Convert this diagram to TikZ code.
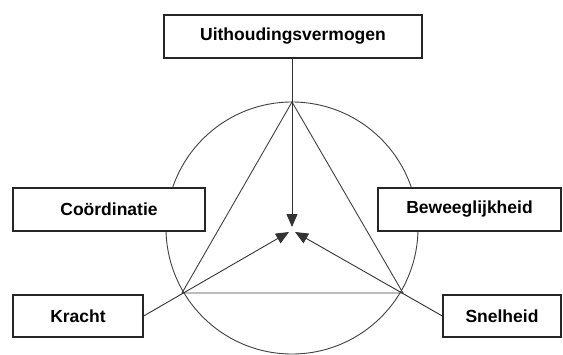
\documentclass[tikz,border=0pt]{standalone}
\usepackage{fontspec}
\setmainfont{Liberation Sans}
\usetikzlibrary{arrows.meta}
\begin{document}
\begin{tikzpicture}[x=1pt,y=-1pt,
  box/.style={draw=black!85,line width=1.3pt,fill=white,inner sep=0pt,
    font=\fontsize{17.5}{20}\selectfont\bfseries},
  geo/.style={draw=black!75,line width=0.9pt},
  conn/.style={draw=black!80,line width=0.9pt,-{Triangle[length=13pt,width=11pt]}}]
\useasboundingbox (0,0) rectangle (563,354);
% circle and triangle
\coordinate (ctr) at (292,228);
\coordinate (tv) at (292,102);
\coordinate (lv) at (182,293);
\coordinate (rv) at (403,293);
\draw[geo] (ctr) circle[radius=126pt];
\draw[geo] (tv) -- (lv) -- (rv) -- cycle;
% boxes
\node[box,minimum width=258pt,minimum height=43pt] (uit) at (293,36.5) {Uithoudingsvermogen};
\node[box,minimum width=192pt,minimum height=43pt] (coo) at (109,209.5) {Coördinatie};
\node[box,minimum width=183pt,minimum height=43pt] (bew) at (469.5,209.5) {Beweeglijkheid};
\node[box,minimum width=130pt,minimum height=42pt] (kra) at (78,316) {Kracht};
\node[box,minimum width=118pt,minimum height=42pt] (sne) at (502,316) {Snelheid};
% arrow tips
\coordinate (tipT) at (292,227);
\coordinate (tipL) at (289,232);
\coordinate (tipR) at (295,232);
\draw[conn] (uit.south -| tipT) -- (tipT);
\draw[conn] (kra.east) -- (tipL);
\draw[conn] (sne.west) -- (tipR);
\end{tikzpicture}
\end{document}
